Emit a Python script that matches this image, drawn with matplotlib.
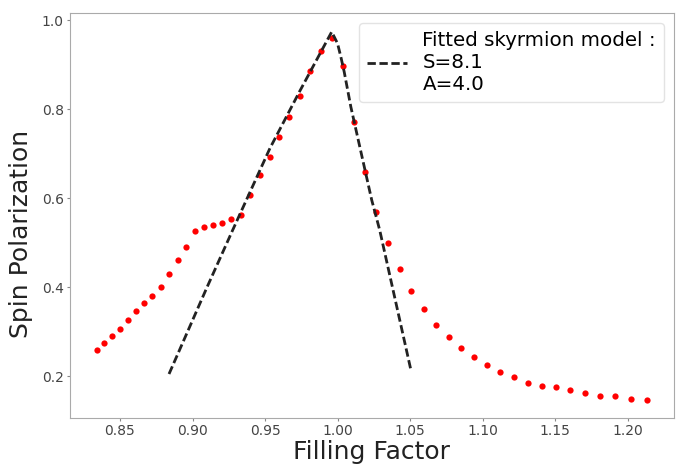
import matplotlib
matplotlib.use("Agg")
import matplotlib.pyplot as plt

# measured spin polarization vs filling factor
nu = [0.8343, 0.8392, 0.8445, 0.8502, 0.8557, 0.8613, 0.8666, 0.8720, 0.8783,
      0.8838, 0.8898, 0.8955, 0.9020, 0.9081, 0.9141, 0.9206, 0.9268, 0.9334,
      0.9399, 0.9466, 0.9532, 0.9599, 0.9668, 0.9739, 0.9812, 0.9888, 0.9962,
      1.0036, 1.0112, 1.0188, 1.0266, 1.0348, 1.0431, 1.0509, 1.0594, 1.0679,
      1.0767, 1.0854, 1.0939, 1.1031, 1.1123, 1.1215, 1.1312, 1.1408, 1.1507,
      1.1603, 1.1709, 1.1812, 1.1916, 1.2026, 1.2132]
pol = [0.258, 0.274, 0.290, 0.306, 0.325, 0.346, 0.364, 0.380, 0.401,
       0.429, 0.461, 0.491, 0.526, 0.536, 0.539, 0.544, 0.552, 0.562,
       0.607, 0.653, 0.692, 0.737, 0.783, 0.829, 0.885, 0.931, 0.960,
       0.897, 0.770, 0.658, 0.569, 0.500, 0.440, 0.390, 0.350, 0.315,
       0.287, 0.264, 0.243, 0.225, 0.210, 0.198, 0.185, 0.177, 0.175,
       0.169, 0.162, 0.156, 0.154, 0.148, 0.146]

# fitted skyrmion model curve
fit_nu = [0.8838, 0.9098, 0.9277, 0.9534, 0.9739, 0.9960, 1.0000, 1.0023,
          1.0046, 1.0092, 1.0236, 1.0291, 1.0507]
fit_pol = [0.2045, 0.398, 0.528, 0.712, 0.840, 0.9737, 0.9478, 0.9176,
           0.884, 0.805, 0.5955, 0.528, 0.212]

fig = plt.figure(figsize=(6.78, 4.66), dpi=100)
ax = fig.add_axes([0.1032, 0.103, 0.8908, 0.869])

ax.plot(nu, pol, 'o', color='red', markersize=4.5, markeredgewidth=0)
ax.plot(fit_nu, fit_pol, '--', color='#222222', lw=2, dashes=(3.0, 1.3),
        label='Fitted skyrmion model :\nS=8.1\nA=4.0')

ax.set_xlim(0.8155, 1.232)
ax.set_ylim(0.1056, 1.016)
ax.set_xticks([0.85, 0.90, 0.95, 1.00, 1.05, 1.10, 1.15, 1.20])
ax.set_yticks([0.2, 0.4, 0.6, 0.8, 1.0])

for s in ax.spines.values():
    s.set_color('#aaaaaa')
ax.tick_params(colors='#888888', labelcolor='#444444', labelsize=10,
               length=2.5, pad=2)

ax.set_xlabel('Filling Factor', fontsize=18, color='#222222', labelpad=1)
ax.set_ylabel('Spin Polarization', fontsize=18, color='#222222')
ax.yaxis.set_label_coords(-0.061, 0.454)

leg = ax.legend(loc='upper right', fontsize=14.3)
leg.get_frame().set_edgecolor('#dddddd')

fig.savefig('out.png', dpi=100)
